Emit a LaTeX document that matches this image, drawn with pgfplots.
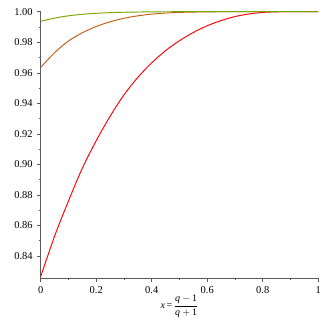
\documentclass[border=0pt]{standalone}
\usepackage{amsmath}
\usepackage{pgfplots}
\pgfplotsset{compat=1.18}
\usepackage{fontspec}
\setmainfont{Liberation Serif}
\definecolor{cred}{RGB}{255,0,0}
\definecolor{corange}{RGB}{196,92,20}
\definecolor{cgreen}{RGB}{122,166,0}
\definecolor{caxis}{RGB}{90,90,90}
\begin{document}
\begin{tikzpicture}
\path (0,0) rectangle (327bp,327bp);
\begin{axis}[
  at={(40.7bp,49bp)}, anchor=south west,
  scale only axis, width=277.5bp, height=266.3bp,
  xmin=0, xmax=1, ymin=0.8256, ymax=1.0,
  axis x line*=bottom, axis y line*=left,
  axis line style={caxis, line width=0.8pt, -},
  xtick={0,0.2,0.4,0.6,0.8,1},
  ytick={0.84,0.86,0.88,0.90,0.92,0.94,0.96,0.98,1.00},
  xticklabels={\textrm{0},\textrm{0.2},\textrm{0.4},\textrm{0.6},\textrm{0.8},\textrm{1}},
  yticklabels={\textrm{0.84},\textrm{0.86},\textrm{0.88},\textrm{0.90},\textrm{0.92},\textrm{0.94},\textrm{0.96},\textrm{0.98},\textrm{1.00}},
  yticklabel style={xshift=-1bp},
  xticklabel style={yshift=-2bp},
  minor x tick num=1, minor y tick num=1,
  tick align=outside,
  major tick length=3.5bp, minor tick length=2bp,
  tick style={caxis, line width=0.5pt},
  ticklabel style={font=\rmfamily\fontsize{10.5}{12}\selectfont},
  xlabel={\fontsize{10}{12}\selectfont \textit{x}\,=\,$\dfrac{\textit{q}-\text{1}}{\textit{q}+\text{1}}$},
  xlabel style={yshift=6bp},
  clip=false,
  every axis plot/.append style={line width=0.95pt, smooth},
]
\addplot[cred] coordinates {
(0,0.8265) (0.05,0.853) (0.1,0.876) (0.15,0.8975) (0.2,0.9155) (0.25,0.9315)
(0.3,0.9455) (0.35,0.957) (0.4,0.9665) (0.45,0.9745) (0.5,0.981) (0.55,0.9864)
(0.6,0.9908) (0.65,0.9942) (0.7,0.9968) (0.75,0.9985) (0.8,0.9995) (0.85,0.99993)
(0.9,1.0) (0.95,1.0) (1.0,1.0)};
\addplot[corange] coordinates {
(0,0.9635) (0.05,0.9732) (0.1,0.9808) (0.15,0.9862) (0.2,0.9903) (0.25,0.9934)
(0.3,0.9957) (0.35,0.9973) (0.4,0.9984) (0.45,0.9991) (0.5,0.99955) (0.6,0.9999)
(0.7,1.0) (0.8,1.0) (0.9,1.0) (1.0,1.0)};
\addplot[cgreen] coordinates {
(0,0.9937) (0.05,0.9958) (0.1,0.9973) (0.15,0.9983) (0.2,0.99895) (0.25,0.99938)
(0.3,0.99964) (0.4,0.9999) (0.5,1.0) (0.6,1.0) (0.7,1.0) (0.8,1.0) (0.9,1.0) (1.0,1.0)};
\end{axis}
\end{tikzpicture}
\end{document}
